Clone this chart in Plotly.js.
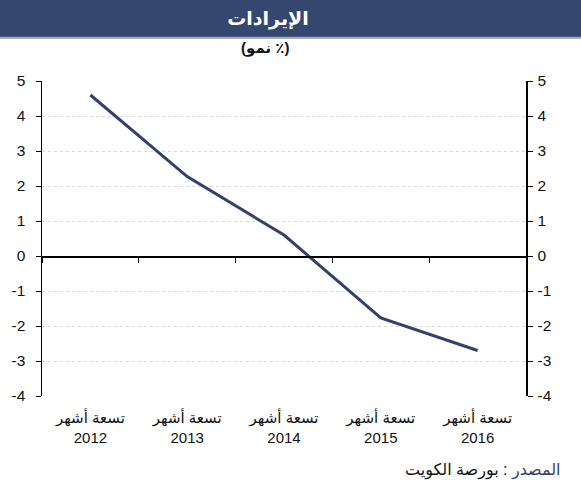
<!DOCTYPE html>
<html>
<head>
<meta charset="utf-8">
<script src="https://cdn.plot.ly/plotly-3.0.1.min.js"></script>
<style>html,body{margin:0;padding:0;background:#fff;}#chart{width:581px;height:500px;}</style>
</head>
<body>
<div id="chart"></div>
<script>
const periodLabel = 'تسعة أشهر';
const years = ['2012', '2013', '2014', '2015', '2016'];
const revenueGrowth = [4.6, 2.27, 0.6, -1.77, -2.7];
const yTicks = [-4, -3, -2, -1, 0, 1, 2, 3, 4, 5];
const titleText = 'الإيرادات';
const subtitleText = '(نمو ٪)';
const sourceLabel = 'المصدر';
const sourceText = ' : بورصة الكويت';

const categories = years.map(y => periodLabel + '<br>' + y);
const navy = '#33416d';
const fontFam = 'Liberation Sans, DejaVu Sans, Arial, sans-serif';

const traces = [
  {x: categories, y: revenueGrowth, type: 'scatter', mode: 'lines',
   line: {color: navy, width: 3}, hoverinfo: 'skip', showlegend: false},
  {x: categories, y: revenueGrowth, xaxis: 'x2', yaxis: 'y2', type: 'scatter', mode: 'lines',
   line: {color: 'rgba(0,0,0,0)', width: 0}, hoverinfo: 'skip', showlegend: false}
];

const yCommon = {
  range: [-4, 5], tickvals: yTicks, ticktext: yTicks.map(String),
  ticks: 'outside', ticklen: 5, tickcolor: '#000',
  showline: true, linecolor: '#000', linewidth: 1.5,
  tickfont: {family: fontFam, size: 15.5, color: '#111'}, fixedrange: true
};
const xRange = [-0.5, years.length - 0.5];

const layout = {
  width: 581, height: 500,
  margin: {l: 42, r: 55, t: 81, b: 104},
  paper_bgcolor: '#fff', plot_bgcolor: '#fff',
  font: {family: fontFam},
  title: {text: '<b>' + titleText + '</b>', font: {family: fontFam, size: 19, color: '#fff'},
          x: (268 - 42) / 484, xref: 'paper', xanchor: 'center', y: 0.964, yref: 'container', yanchor: 'middle'},
  xaxis: {type: 'category', range: xRange, showline: false, showgrid: false, zeroline: false,
          ticks: 'outside', ticklen: 8, tickcolor: 'rgba(0,0,0,0)',
          tickfont: {family: fontFam, size: 15, color: '#111'}, fixedrange: true},
  xaxis2: {type: 'category', range: xRange, overlaying: 'x', anchor: 'free', position: 4/9,
           showline: true, linecolor: '#000', linewidth: 1.5, showgrid: false, zeroline: false,
           ticks: 'outside', tickson: 'boundaries', ticklen: 5, tickcolor: '#000',
           showticklabels: false, fixedrange: true},
  yaxis: Object.assign({}, yCommon, {side: 'left', showgrid: true, gridcolor: '#d9d9d9',
          griddash: 'dot', gridwidth: 1, zeroline: false, ticklabelstandoff: 7}),
  yaxis2: Object.assign({}, yCommon, {side: 'right', overlaying: 'y', anchor: 'x',
          showgrid: false, zeroline: false, ticklabelstandoff: 2}),
  shapes: [
    {type: 'rect', xref: 'paper', yref: 'paper', x0: -0.1, x1: 1.2, y0: 1.14, y1: 1.3,
     fillcolor: '#35466f', line: {width: 0}, layer: 'below'},
    {type: 'line', xref: 'paper', yref: 'paper', x0: -0.1, x1: 1.2, y0: 1.137, y1: 1.137,
     line: {color: '#9aa3bb', width: 2}, layer: 'below'}
  ],
  annotations: [
    {text: '<b>' + subtitleText + '</b>', xref: 'paper', yref: 'paper', x: (265 - 42) / 484,
     y: (396 - 48) / 315, showarrow: false, font: {family: fontFam, size: 15, color: '#111'},
     yanchor: 'middle'},
    {text: '<span style="color:' + navy + '">' + sourceLabel + '</span>' + sourceText,
     xref: 'paper', yref: 'paper', x: (563 - 42) / 484, y: (396 - 470) / 315, xanchor: 'right',
     yanchor: 'middle', showarrow: false, font: {family: fontFam, size: 16, color: '#111'}}
  ]
};

Plotly.newPlot('chart', traces, layout, {displayModeBar: false, staticPlot: true});
</script>
</body>
</html>
